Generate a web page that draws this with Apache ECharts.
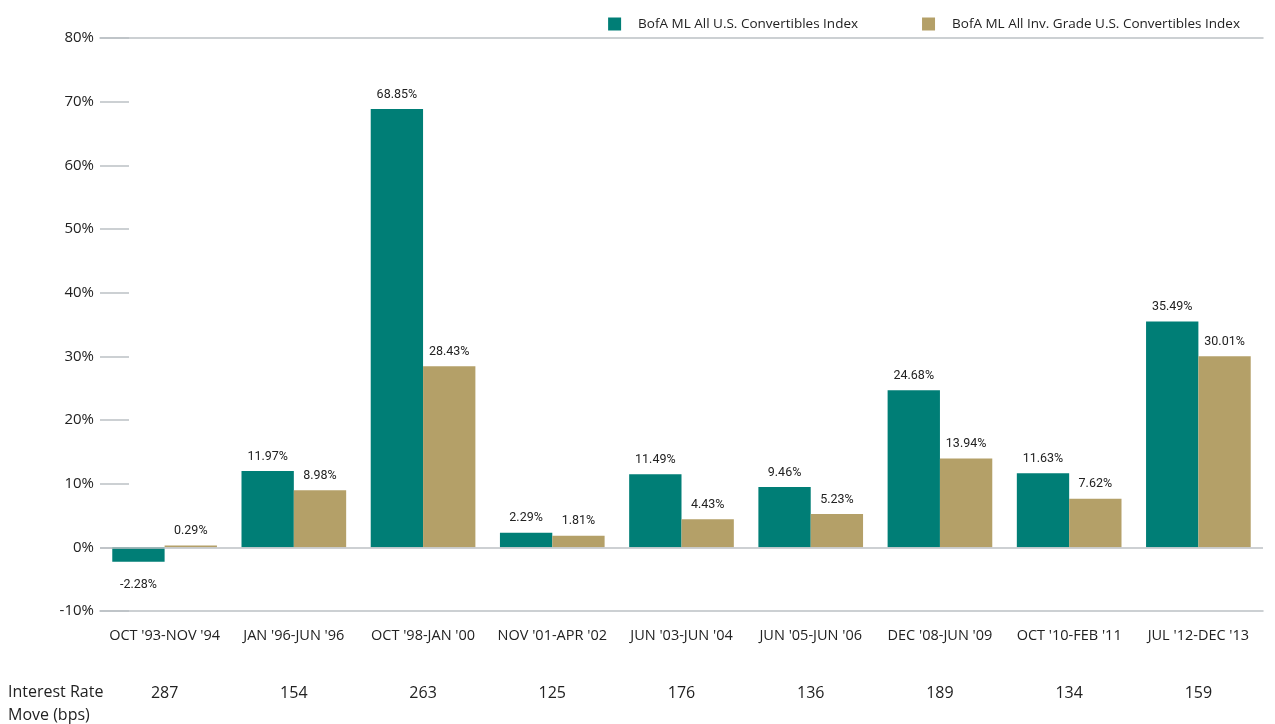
<!DOCTYPE html>
<html><head><meta charset="utf-8">
<script src="https://cdn.jsdelivr.net/npm/echarts@6/dist/echarts.min.js"></script>
<style>html,body{margin:0;padding:0;background:#fff}#c{width:1275px;height:724px}</style>
</head><body><div id="c"></div>
<script>
const categories = ["OCT '93-NOV '94","JAN '96-JUN '96","OCT '98-JAN '00","NOV '01-APR '02","JUN '03-JUN '04","JUN '05-JUN '06","DEC '08-JUN '09","OCT '10-FEB '11","JUL '12-DEC '13"];
const allConv = [-2.28, 11.97, 68.85, 2.29, 11.49, 9.46, 24.68, 11.63, 35.49];
const invGrade = [0.29, 8.98, 28.43, 1.81, 4.43, 5.23, 13.94, 7.62, 30.01];
const bpsMove = ["287","154","263","125","176","136","189","134","159"];
const seriesNames = ["BofA ML All U.S. Convertibles Index", "BofA ML All Inv. Grade U.S. Convertibles Index"];
const rowLabel = "Interest Rate\nMove (bps)";

const gray = '#bcc1c5';
const mainFont = '"Open Sans", "Noto Sans", sans-serif';
const narrowFont = 'Roboto, "Open Sans", sans-serif';

function withLabels(arr) {
  return arr.map(v => ({ value: v, label: v < 0 ? { position: 'bottom', distance: 17 } : { position: 'top', distance: 8 } }));
}
const labelCfg = {
  show: true, color: '#222', fontFamily: narrowFont, fontSize: 12.5,
  formatter: p => p.value.toFixed(2) + '%'
};

const chart = echarts.init(document.getElementById('c'));
chart.setOption({
  animation: false,
  textStyle: { fontFamily: mainFont },
  grid: { left: 100, right: 12, top: 38, bottom: 113, containLabel: false },
  legend: {
    right: 30, top: 12, itemWidth: 13, itemHeight: 13, itemGap: 64,
    icon: 'rect',
    textStyle: { fontFamily: mainFont, fontSize: 13.5, color: '#222', padding: [0, 0, 0, 12] },
    data: seriesNames
  },
  xAxis: [
    {
      type: 'category', data: categories, position: 'bottom',
      axisLine: { show: true, onZero: false, lineStyle: { color: gray, width: 1.5 } },
      axisTick: { show: false },
      axisLabel: { fontSize: 14.5, color: '#222', margin: 17, fontFamily: mainFont, interval: 0 }
    },
    {
      type: 'category', data: bpsMove, position: 'bottom', offset: 56,
      axisLine: { show: false }, axisTick: { show: false },
      axisLabel: { fontSize: 16, color: '#222', margin: 18, fontFamily: mainFont, interval: 0 }
    },
    {
      type: 'category', data: categories, position: 'top',
      axisLine: { show: true, lineStyle: { color: gray, width: 1.5 } },
      axisTick: { show: false }, axisLabel: { show: false }
    }
  ],
  yAxis: {
    type: 'value', min: -10, max: 80, interval: 10,
    axisLine: { show: false },
    axisTick: { show: true, inside: true, length: 29, lineStyle: { color: gray, width: 1.5 } },
    splitLine: { show: false },
    axisLabel: { formatter: '{value}%', fontSize: 15, color: '#222', margin: 6, fontFamily: mainFont }
  },
  graphic: [{
    type: 'text', left: 8, top: 681,
    style: { text: rowLabel, fontSize: 16, fill: '#222', fontFamily: mainFont, lineHeight: 23 }
  }],
  series: [
    {
      name: seriesNames[0], type: 'bar', xAxisIndex: 0, data: withLabels(allConv),
      itemStyle: { color: '#007e76' }, barGap: '0%', barCategoryGap: '19%',
      label: labelCfg,
      markLine: {
        silent: true, symbol: 'none', label: { show: false },
        lineStyle: { color: gray, width: 1.5, type: 'solid' },
        data: [{ yAxis: 0 }]
      }
    },
    {
      name: seriesNames[1], type: 'bar', xAxisIndex: 0, data: withLabels(invGrade),
      itemStyle: { color: '#b4a068' }, barGap: '0%', barCategoryGap: '19%',
      label: labelCfg
    }
  ]
});
</script></body></html>
